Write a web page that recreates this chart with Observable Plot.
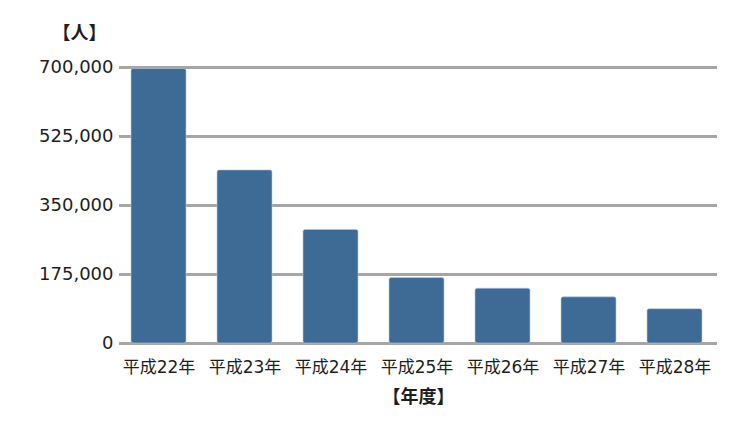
<!DOCTYPE html>
<html>
<head>
<meta charset="utf-8">
<script src="https://cdn.jsdelivr.net/npm/d3@7"></script>
<script src="https://cdn.jsdelivr.net/npm/@observablehq/plot@0.6"></script>
<style>
  html, body { margin: 0; padding: 0; background: #fff; }
  #chart svg { display: block; }
</style>
</head>
<body>
<div id="chart"></div>
<script>
const years = ["平成22年", "平成23年", "平成24年", "平成25年", "平成26年", "平成27年", "平成28年"];
const people = [696000, 439000, 288000, 166000, 139000, 117000, 87000];
const yTicks = [0, 175000, 350000, 525000, 700000];
const yLabel = "【人】";
const xLabel = "【年度】";

const data = years.map((y, i) => ({year: y, value: people[i]}));
const font = "'DejaVu Sans', 'Noto Sans CJK JP', sans-serif";

const chart = Plot.plot({
  width: 750,
  height: 433,
  marginLeft: 116,
  marginRight: 32,
  marginTop: 67,
  marginBottom: 90,
  style: {fontFamily: font, fontSize: "17px", color: "#1e1e1e", background: "#fff"},
  x: {domain: years, paddingInner: 0.36, paddingOuter: 0.18, label: null},
  y: {domain: [0, 700000], label: null},
  marks: [
    Plot.ruleY(yTicks, {stroke: "#a6a6a6", strokeWidth: 3, insetLeft: 3, insetRight: 1}),
    Plot.barY(data, {x: "year", y: "value", fill: "#3d6b96", rx: 2, stroke: "#b9cadb", strokeWidth: 0.6}),
    Plot.axisX({tickSize: 0, tickPadding: 17, fontSize: 17, label: null}),
    Plot.axisY({ticks: yTicks, tickFormat: d3.format(","), tickSize: 0, tickPadding: 3, fontSize: 18, label: null}),
    Plot.text([yLabel], {frameAnchor: "top-left", dx: -64, dy: -41, fontSize: 18, fontWeight: "bold", fill: "#1e1e1e"}),
    Plot.text([xLabel], {frameAnchor: "bottom", dx: 1, dy: 59, fontSize: 18, fontWeight: "bold", fill: "#1e1e1e"})
  ]
});
document.getElementById("chart").appendChild(chart);
</script>
</body>
</html>
